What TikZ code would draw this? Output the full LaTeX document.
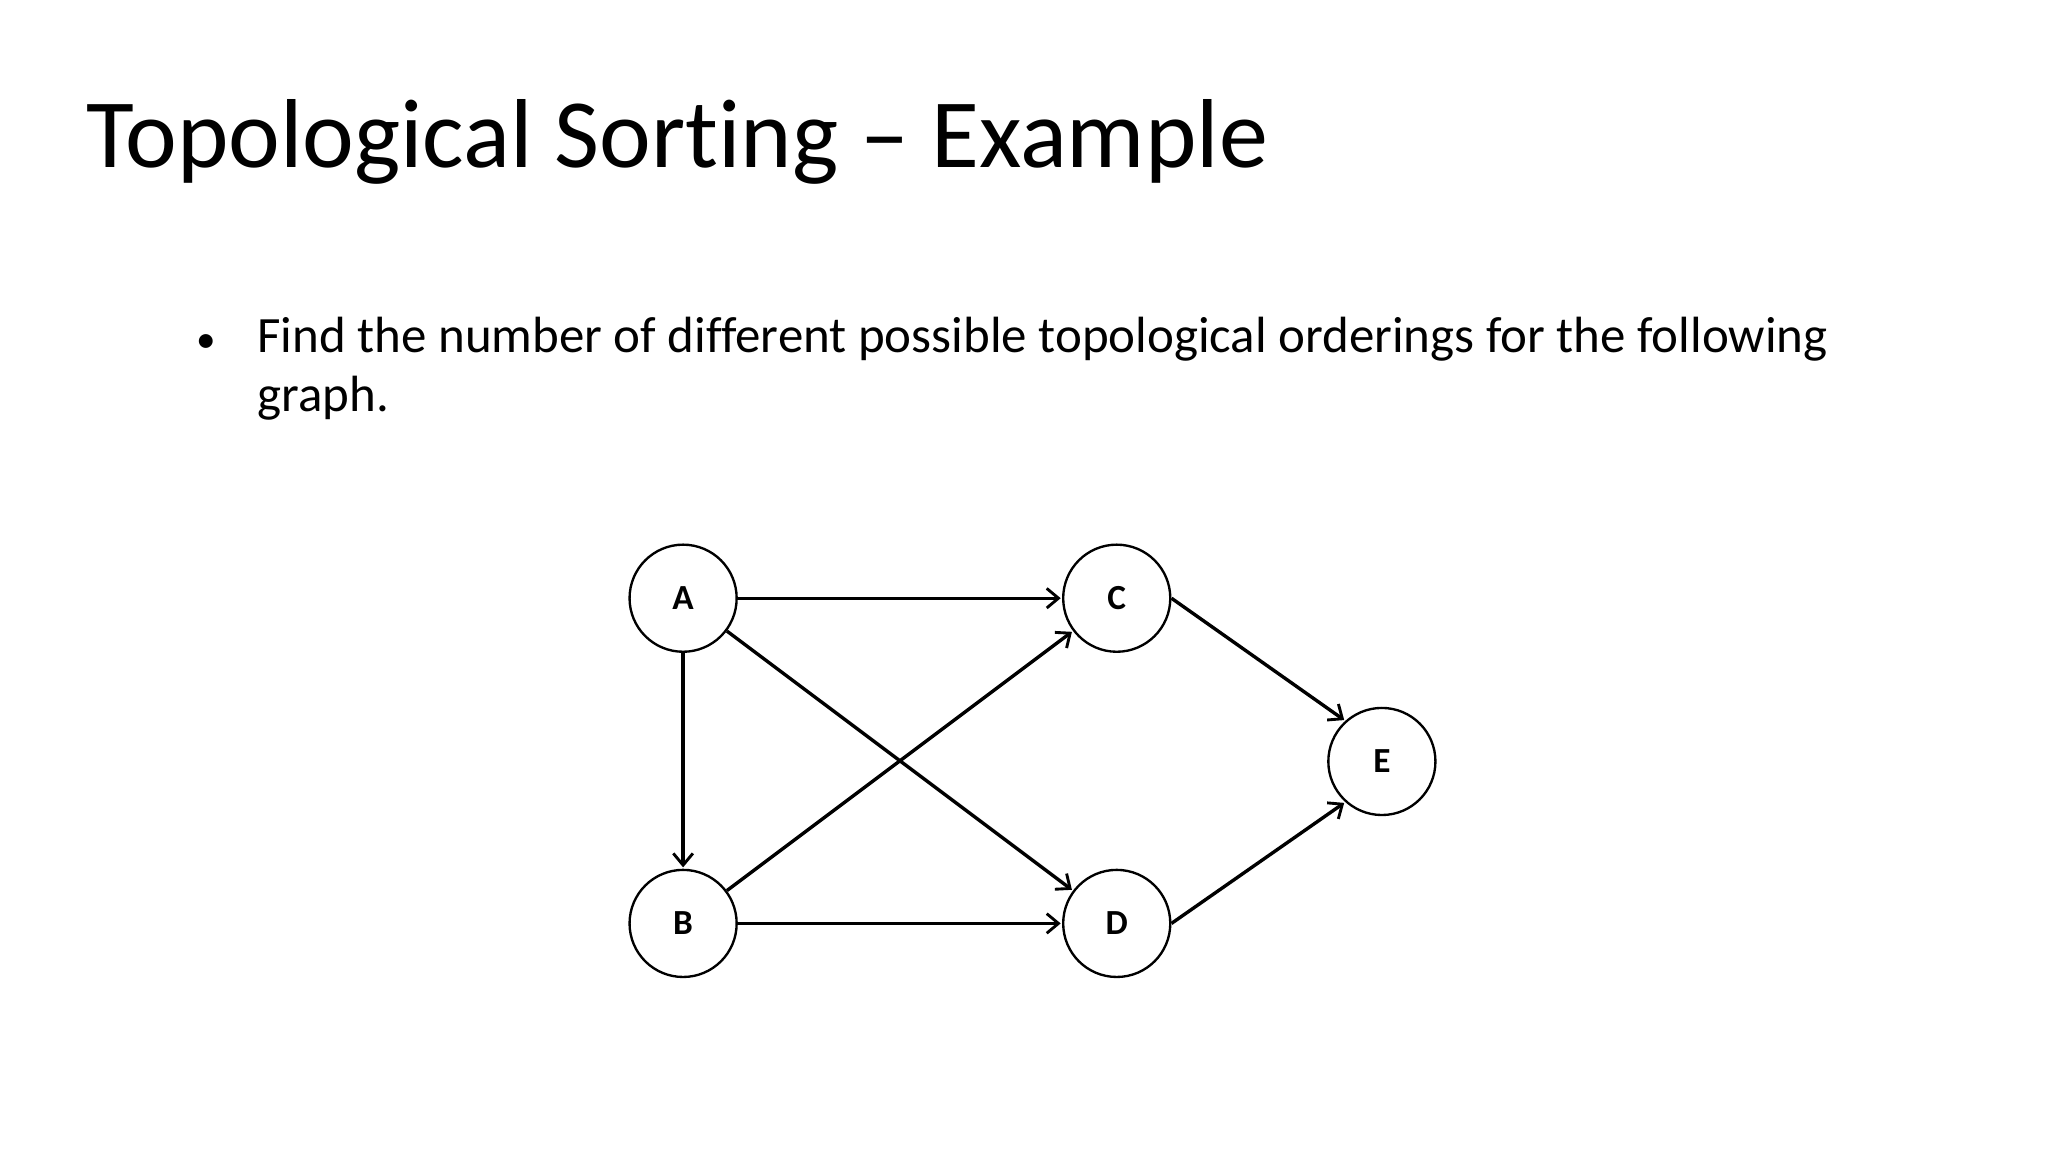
\documentclass[tikz,border=0pt]{standalone}
\usepackage{fontspec}
\setmainfont[Ligatures=NoCommon]{Carlito}
\usetikzlibrary{arrows.meta}
\begin{document}
\begin{tikzpicture}[x=1pt,y=-1pt,
  vtx/.style={circle,draw,line width=1.8pt,minimum size=82pt,inner sep=0pt,font=\fontsize{27}{30}\selectfont\bfseries},
  edge/.style={line width=2.6pt,-{Straight Barb[length=9pt,width=15pt,line width=2.2pt]},shorten >=1pt}]
\useasboundingbox (0,0) rectangle (1568,882);
\node[anchor=base west,inner sep=0pt,font=\fontsize{75}{90}\selectfont] (title) at (66,128) {Topological Sorting – Example};
\node[anchor=base west,inner sep=0pt,font=\fontsize{30}{40}\selectfont] (bul) at (150,270) {•};
\node[anchor=base west,inner sep=0pt,font=\fontsize{39}{45}\selectfont] (txt) at (197,270) {Find the number of different possible topological orderings for the following};
\node[anchor=base west,inner sep=0pt,font=\fontsize{39}{45}\selectfont] (txt2) at (197,315) {graph.};
\node[vtx] (A) at (523,458) {A};
\node[vtx] (C) at (855,458) {C};
\node[vtx] (E) at (1058,583) {E};
\node[vtx] (B) at (523,707) {B};
\node[vtx] (D) at (855,707) {D};
\draw[edge] (A) -- (C);
\draw[edge] (A) -- (B);
\draw[edge] (A) -- (D);
\draw[edge] (B) -- (C);
\draw[edge] (B) -- (D);
\draw[edge] (C.east) -- (E.132);
\draw[edge] (D.east) -- (E.228);
\end{tikzpicture}
\end{document}
